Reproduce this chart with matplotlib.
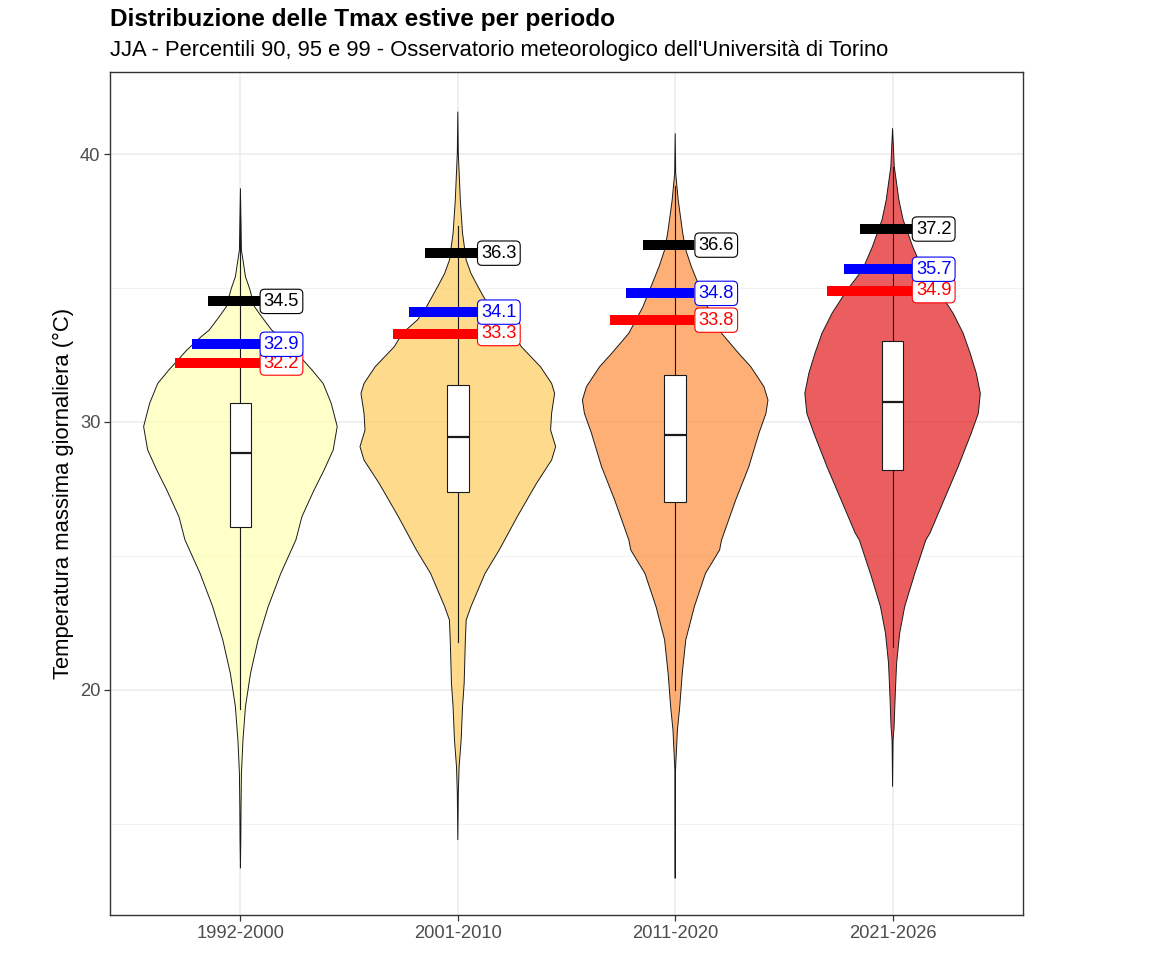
import matplotlib
matplotlib.use("Agg")
import matplotlib.pyplot as plt
from matplotlib.colors import to_rgba
import numpy as np

plt.rcParams['font.family'] = ['Liberation Sans', 'DejaVu Sans']

# ---------------- data ----------------
periods = ["1992-2000", "2001-2010", "2011-2020", "2021-2026"]
fill_colors = ["#FFFFB2", "#FECC5C", "#FD8D3C", "#E31A1C"]

# violin density profiles (temperature levels, relative density)
v1_t = [38.72, 37.6, 36.42, 35.92, 35.42, 34.99, 34.30, 33.93, 33.43, 33.18, 32.69, 31.94, 31.44,
        30.70, 29.83, 28.96, 28.21, 27.46, 26.47, 25.6, 24.35, 23.11, 21.87, 20.62, 19.38, 18.13,
        16.89, 15.64, 14.48, 13.35]
v1_d = [0, 0.5, 1, 3, 5, 9, 14, 21, 31, 39, 53, 71, 82,
        90, 96, 92, 83, 73, 61, 55, 40, 27.5, 17.5, 10, 5, 2.5,
        1, 0.6, 0.4, 0]

v2_t = [41.58, 40.02, 38.28, 37.04, 36.04, 35.55, 35.05, 34.30, 33.81, 33.31, 32.81, 32.06, 31.44,
        31.07, 30.32, 29.70, 29.08, 28.58, 27.71, 26.47, 25.22, 24.35, 23.11, 22.61, 21.87, 20.25,
        19.38, 18.13, 17.14, 16.15, 14.40]
v2_d = [0, 0.5, 2.5, 4.7, 8.3, 13, 20, 31, 40, 55, 63, 82, 93,
        96, 93, 92, 97, 93, 78, 59, 41, 27, 13, 8.3, 7.5, 6.3,
        4.7, 3.3, 1.3, 0.5, 0]

v3_t = [40.77, 39.28, 38.28, 37.04, 36.42, 35.80, 35.05, 34.30, 33.31, 32.56, 32.06, 31.32, 30.82,
        30.32, 29.58, 28.33, 27.09, 25.6, 25.22, 24.35, 23.11, 21.87, 20.62, 19.38, 18.51, 17.01, 12.97]
v3_d = [0, 0.5, 3, 7.5, 10.5, 16, 24, 32, 46, 63, 75, 88, 92,
        90, 83, 73, 60, 46, 44, 30, 19, 10.5, 7, 4.5, 2.2, 0.3, 0]

v4_t = [40.96, 39.53, 38.28, 37.54, 36.54, 35.67, 34.93, 34.06, 33.31, 32.56, 31.82, 31.07, 30.32,
        29.58, 28.33, 27.09, 25.85, 25.6, 24.35, 23.11, 22.11, 21.0, 19.88, 18.63, 18.13, 16.39]
v4_d = [0, 1.7, 6.3, 10.5, 20, 30, 45, 60, 70, 77, 83, 87, 85,
        78, 65, 51, 37, 33, 22, 12, 7, 4, 2.7, 1.5, 0.5, 0]

violin_t = [v1_t, v2_t, v3_t, v4_t]
violin_d = [v1_d, v2_d, v3_d, v4_d]

# boxplot statistics
q1 = [26.09, 27.40, 27.00, 28.21]
median = [28.83, 29.43, 29.51, 30.76]
q3 = [30.72, 31.38, 31.75, 33.04]
whisk_lo = [19.3, 21.8, 20.0, 21.62]
whisk_hi = [37.6, 37.3, 38.8, 39.5]

# percentiles
p90 = [32.2, 33.3, 33.8, 34.9]
p95 = [32.9, 34.1, 34.8, 35.7]
p99 = [34.5, 36.3, 36.6, 37.2]

title = "Distribuzione delle Tmax estive per periodo"
subtitle = "JJA - Percentili 90, 95 e 99 - Osservatorio meteorologico dell'Università di Torino"
ylabel = "Temperatura massima giornaliera (°C)"

# ---------------- figure ----------------
W, H = 1156, 972
fig = plt.figure(figsize=(W / 100, H / 100), dpi=100)
L, R, T, B = 110, 1023, 72, 915
ax = fig.add_axes([L / W, 1 - B / H, (R - L) / W, (B - T) / H])
ax.set_xlim(0.4, 4.6)
ax.set_ylim(11.604, 43.06)

# grid
for y in [15, 25, 35]:
    ax.axhline(y, color="#F2F2F2", lw=0.8, zorder=0)
for y in [20, 30, 40]:
    ax.axhline(y, color="#EBEBEB", lw=1.1, zorder=0)
for i in range(4):
    ax.axvline(i + 1, color="#EBEBEB", lw=1.1, zorder=0)

dmax = max(max(d) for d in violin_d)
max_half = 0.45

for i in range(4):
    c = i + 1
    t = np.array(violin_t[i])
    d = np.array(violin_d[i]) / dmax * max_half
    xs = np.concatenate([c - d, (c + d)[::-1]])
    ys = np.concatenate([t, t[::-1]])
    ax.fill(xs, ys, facecolor=to_rgba(fill_colors[i], 0.7), edgecolor="#1a1a1a",
            lw=0.7, zorder=2)
    # whiskers
    ax.plot([c, c], [whisk_lo[i], q1[i]], color="#1a1a1a", lw=0.8, zorder=3)
    ax.plot([c, c], [q3[i], whisk_hi[i]], color="#1a1a1a", lw=0.8, zorder=3)
    # box
    bw = 0.05
    ax.fill([c - bw, c + bw, c + bw, c - bw, c - bw],
            [q1[i], q1[i], q3[i], q3[i], q1[i]],
            facecolor="white", edgecolor="#1a1a1a", lw=0.8, zorder=4)
    ax.plot([c - bw, c + bw], [median[i], median[i]], color="#1a1a1a", lw=1.6, zorder=5,
            solid_capstyle="butt")

# percentile bars + labels
bar_specs = [(p90, "red", -0.30), (p95, "blue", -0.225), (p99, "black", -0.15)]
right_off = 0.088
fs_lab = 13.2
pad = 0.2
for vals, col, left_off in bar_specs:
    for i in range(4):
        c = i + 1
        ax.plot([c + left_off, c + right_off], [vals[i], vals[i]], color=col, lw=7.2,
                solid_capstyle="butt", zorder=6)
for vals, col, left_off in bar_specs:
    for i in range(4):
        c = i + 1
        ax.annotate(f"{vals[i]:.1f}", xy=(c + right_off, vals[i]),
                    xytext=(pad * fs_lab + 0.4, 0), textcoords="offset points",
                    ha="left", va="center", fontsize=fs_lab, color=col, zorder=7,
                    bbox=dict(boxstyle=f"round,pad={pad},rounding_size=0.25", fc="white",
                              ec=col, lw=0.8))

# axes styling
ax.set_xticks([1, 2, 3, 4])
ax.set_xticklabels(periods)
ax.set_yticks([20, 30, 40])
ax.tick_params(axis="both", colors="#333333", labelcolor="#4D4D4D", labelsize=13.2,
               length=4, width=0.9)
ax.tick_params(axis="x", pad=3)
ax.tick_params(axis="y", pad=3)
for s in ax.spines.values():
    s.set_color("#333333")
    s.set_linewidth(1.0)

fig.text(63 / W, 1 - 493.5 / H, ylabel, rotation=90, ha="center", va="center",
         fontsize=15.8, color="black")
fig.text(L / W, 1 - 26 / H, title, ha="left", va="baseline", fontsize=17.6,
         fontweight="bold", color="black")
fig.text(L / W, 1 - 56 / H, subtitle, ha="left", va="baseline", fontsize=15.8,
         color="black")

fig.savefig("out.png", dpi=100)
